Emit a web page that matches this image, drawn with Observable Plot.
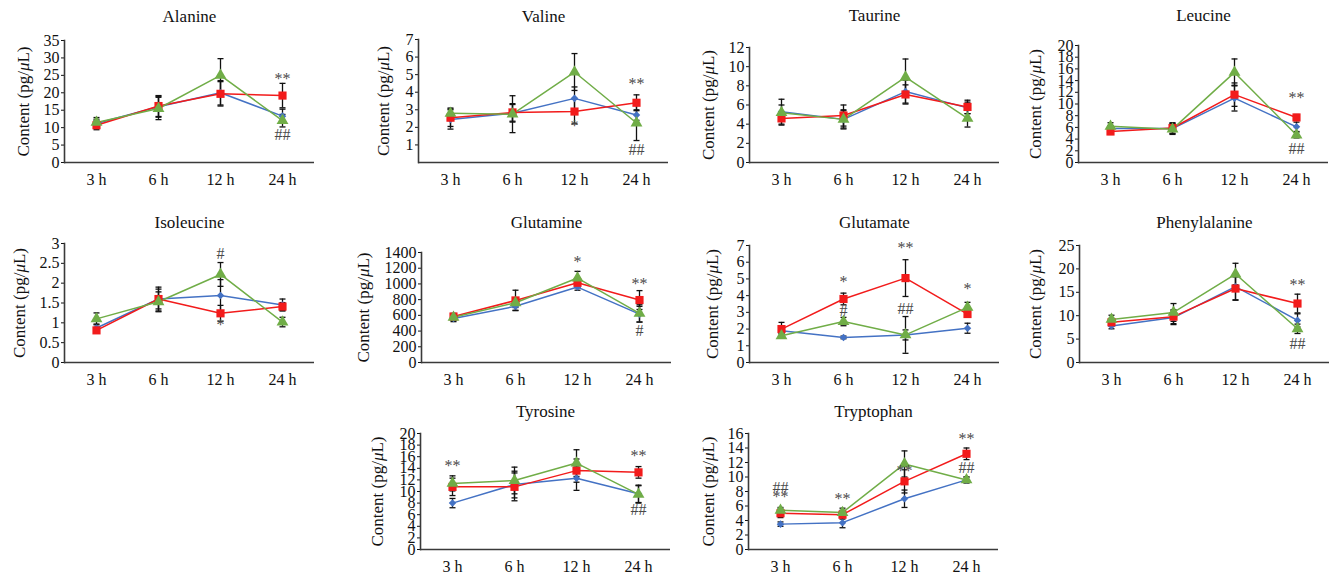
<!DOCTYPE html>
<html><head><meta charset="utf-8">
<script src="https://cdn.jsdelivr.net/npm/d3@7"></script>
<script src="https://cdn.jsdelivr.net/npm/@observablehq/plot@0.6"></script>
<style>
body{margin:0;background:#fff;}
#wrap{position:relative;width:1332px;height:575px;overflow:hidden;background:#fff;}
#wrap svg{position:absolute;overflow:visible;background:none;}
</style></head><body><div id="wrap"></div>
<script>
const times = ["3 h","6 h","12 h","24 h"];
const analytes = ["Alanine","Valine","Taurine","Leucine","Isoleucine","Glutamine","Glutamate","Phenylalanine","Tyrosine","Tryptophan"];
const yMax  = [35, 7, 12, 20, 3, 1400, 7, 25, 20, 16];
const yStep = [5, 1, 2, 2, 0.5, 200, 1, 5, 2, 2];
const yFirstTick = [0, 1, 0, 0, 0, 0, 0, 0, 0, 0];

const blueMean = [
 [11.2,16.0,20.0,13.3],[2.45,2.8,3.65,2.7],[5.3,4.5,7.4,5.7],[5.8,5.8,11.0,6.1],
 [0.87,1.6,1.69,1.45],[560,715,960,615],[1.9,1.5,1.65,2.05],[7.8,9.6,16.2,9.0],
 [8.0,11.2,12.3,9.6],[3.5,3.7,7.0,9.6]];
const blueErr = [
 [1.2,3.0,3.5,2.0],[0.55,0.5,0.65,0.3],[1.3,1.0,1.2,0.6],[0.5,0.9,2.2,0.8],
 [0.1,0.3,0.4,0.15],[40,50,40,100],[0.2,0.08,0.3,0.3],[0.6,1.5,2.8,1.4],
 [0.8,2.3,2.1,1.5],[0.3,0.7,1.2,0.4]];
const redMean = [
 [10.7,16.2,19.7,19.2],[2.55,2.85,2.9,3.4],[4.6,4.9,7.1,5.8],[5.3,5.9,11.6,7.7],
 [0.81,1.6,1.24,1.41],[585,790,1015,795],[2.0,3.8,5.05,2.9],[8.6,9.8,15.8,12.6],
 [10.8,10.8,13.6,13.3],[5.0,4.8,9.4,13.2]];
const redErr = [
 [1.3,3.0,3.5,3.5],[0.5,0.5,0.7,0.45],[0.7,1.1,1.0,0.7],[0.5,0.9,2.0,0.5],
 [0.06,0.25,0.2,0.1],[40,130,60,120],[0.4,0.35,1.1,0.2],[0.8,1.5,2.5,2.0],
 [1.5,2.4,2.0,1.0],[0.6,0.6,1.6,0.8]];
const greenMean = [
 [11.5,15.5,25.0,12.0],[2.8,2.75,5.15,2.25],[5.2,4.5,8.9,4.6],[6.2,5.7,15.4,4.7],
 [1.1,1.53,2.22,1.02],[575,760,1075,625],[1.6,2.45,1.65,3.3],[9.2,10.7,18.9,7.2],
 [11.4,11.9,14.9,9.5],[5.4,5.1,11.8,9.6]];
const greenErr = [
 [1.4,3.2,4.8,1.8],[0.3,1.05,1.05,1.0],[0.8,0.9,1.9,0.9],[0.6,0.9,2.3,0.5],
 [0.15,0.25,0.3,0.12],[40,60,85,110],[0.15,0.25,1.1,0.3],[0.9,1.9,2.3,1.0],
 [1.3,2.3,2.3,1.5],[0.4,0.6,1.8,0.4]];

// significance marks
const sigAnalyte = ["Alanine","Alanine","Valine","Valine","Valine","Leucine","Leucine","Isoleucine","Isoleucine",
 "Glutamine","Glutamine","Glutamine","Glutamate","Glutamate","Glutamate","Glutamate","Glutamate",
 "Phenylalanine","Phenylalanine","Tyrosine","Tyrosine","Tyrosine",
 "Tryptophan","Tryptophan","Tryptophan","Tryptophan","Tryptophan","Tryptophan"];
const sigTime = ["24 h","24 h","12 h","24 h","24 h","24 h","24 h","12 h","12 h",
 "12 h","24 h","24 h","6 h","6 h","12 h","12 h","24 h",
 "24 h","24 h","3 h","24 h","24 h",
 "3 h","3 h","6 h","12 h","24 h","24 h"];
const sigValue = [24,8,2.1,4.5,0.7,11,2.3,2.75,0.95,
 1285,1005,400,4.85,3.1,6.85,3.2,4.4,
 16.6,3.9,14.5,16.2,6.9,
 8.5,7.2,7.0,10.9,15.3,11.3];
const sigText = ["**","##","*","**","##","**","##","#","*",
 "*","**","#","*","#","**","##","*",
 "**","##","**","**","##",
 "##","**","**","**","**","##"];

// layout (pixel geometry of each small panel)
const layout = [
 {ax:64, top:40, bottom:162, titleY:16, lab:48},
 {ax:418, top:39, bottom:162, titleY:16, lab:42},
 {ax:749, top:47, bottom:162, titleY:15, lab:48},
 {ax:1078, top:45, bottom:162, titleY:15, lab:50},
 {ax:64, top:243, bottom:362, titleY:222, lab:52},
 {ax:421, top:252, bottom:362, titleY:222, lab:65},
 {ax:749, top:245, bottom:362, titleY:222, lab:44},
 {ax:1079, top:245, bottom:362, titleY:222, lab:51},
 {ax:420, top:433, bottom:549, titleY:411, lab:50},
 {ax:748, top:433, bottom:549, titleY:411, lab:47}
];

const colors = {blue:"#4472C4", red:"#F21B1B", green:"#70AD47"};
const cap = {draw(ctx){ ctx.moveTo(-3,0); ctx.lineTo(3,0); }};
const FONT = "'Liberation Serif','DejaVu Serif',serif";

const wrap = document.getElementById("wrap");
analytes.forEach((name, i) => {
  const L = layout[i];
  const mL = 75, mR = 10, mB = 32, plotW = 250;
  const svgTop = L.titleY - 14;
  const mT = L.top - svgTop;
  const H = mT + (L.bottom - L.top) + mB;
  const mk = (mean, err, s) => times.map((t, j) => ({series:s, time:t, mean:mean[i][j], lo:mean[i][j]-err[i][j], hi:mean[i][j]+err[i][j]}));
  const B = mk(blueMean, blueErr, "blue"), R = mk(redMean, redErr, "red"), G = mk(greenMean, greenErr, "green");
  const all = [...B, ...R, ...G];
  const ticks = d3.range(yFirstTick[i], yMax[i] + yStep[i]/2, yStep[i]);
  const sig = sigAnalyte.map((a, k) => ({a, time:sigTime[k], y:sigValue[k], t:sigText[k]})).filter(d => d.a === name);
  const chart = Plot.plot({
    width: mL + plotW + mR, height: H,
    marginLeft: mL, marginRight: mR, marginTop: mT, marginBottom: mB,
    style: {fontFamily: FONT, fontSize: "16px", background: "none", overflow: "visible", color: "#111"},
    x: {type: "point", domain: times, padding: 0.5},
    y: {domain: [0, yMax[i]]},
    marks: [
      Plot.axisX({tickSize: 0, tickPadding: 11, fontSize: 16, label: null}),
      Plot.axisY({ticks, tickSize: 3, tickPadding: 2, fontSize: 16, tickFormat: d => String(d),
        label: "Content (pg/μL)", labelAnchor: "center", labelOffset: L.lab, labelArrow: "none"}),
      Plot.ruleY([0], {stroke: "#3a3a3a", strokeWidth: 1.6}),
      Plot.frame({anchor: "left", stroke: "#3a3a3a", strokeWidth: 1.6}),
      Plot.ruleX(all, {x: "time", y1: "lo", y2: "hi", stroke: "#111", strokeWidth: 1.3}),
      Plot.dot(all, {x: "time", y: "hi", symbol: cap, stroke: "#111", strokeWidth: 1.3, fill: "none", r: 3}),
      Plot.dot(all, {x: "time", y: "lo", symbol: cap, stroke: "#111", strokeWidth: 1.3, fill: "none", r: 3}),
      Plot.line(B, {x: "time", y: "mean", stroke: colors.blue, strokeWidth: 1.5}),
      Plot.line(R, {x: "time", y: "mean", stroke: colors.red, strokeWidth: 1.5}),
      Plot.line(G, {x: "time", y: "mean", stroke: colors.green, strokeWidth: 1.5}),
      Plot.dot(B, {x: "time", y: "mean", symbol: "diamond2", r: 3.4, fill: colors.blue, stroke: "none"}),
      Plot.dot(R, {x: "time", y: "mean", symbol: "square", r: 4.6, fill: colors.red, stroke: "none"}),
      Plot.dot(G, {x: "time", y: "mean", symbol: "triangle", r: 4.4, fill: colors.green, stroke: "none"}),
      Plot.text(sig, {x: "time", y: "y", text: "t", fill: "#4a4a4a", fontSize: 16}),
      Plot.text([name], {frameAnchor: "top", lineAnchor: "middle", dy: -(L.top - L.titleY), fontSize: 17, fill: "#111"})
    ]
  });
  chart.style.left = (L.ax - mL) + "px";
  chart.style.top = svgTop + "px";
  wrap.appendChild(chart);
  // italic mu in the axis label
  chart.querySelectorAll("text").forEach(t => {
    if (t.textContent === "Content (pg/μL)") {
      t.setAttribute("font-size", "17");
      t.textContent = "";
      const parts = [["Content (pg/", false], ["μ", true], ["L)", false]];
      parts.forEach(([s, it]) => {
        const ts = document.createElementNS("http://www.w3.org/2000/svg", "tspan");
        ts.textContent = s;
        if (it) ts.setAttribute("font-style", "italic");
        t.appendChild(ts);
      });
    }
  });
});
</script></body></html>
